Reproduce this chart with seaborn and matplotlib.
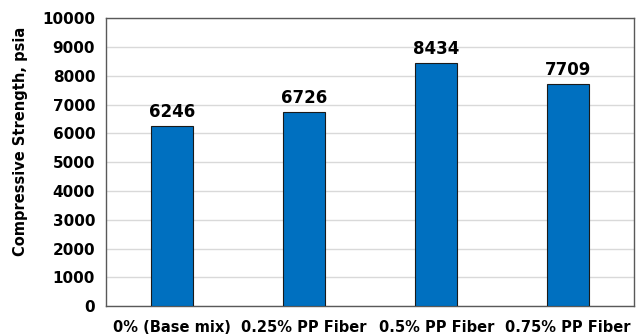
import matplotlib
matplotlib.use("Agg")
import matplotlib.pyplot as plt
import seaborn as sns
import pandas as pd

# chart data
mixes = ["0% (Base mix)", "0.25% PP Fiber", "0.5% PP Fiber", "0.75% PP Fiber"]
strength = [6246, 6726, 8434, 7709]
y_ticks = [0, 1000, 2000, 3000, 4000, 5000, 6000, 7000, 8000, 9000, 10000]

df = pd.DataFrame({"mix": mixes, "strength": strength})

sns.set_style("white")
plt.rcParams["font.family"] = ["DejaVu Sans"]
plt.rcParams["font.weight"] = "bold"
plt.rcParams["text.color"] = "black"
plt.rcParams["axes.labelcolor"] = "black"
plt.rcParams["xtick.color"] = "black"
plt.rcParams["ytick.color"] = "black"

fig = plt.figure(figsize=(6.4, 3.36), dpi=100)
ax = fig.add_axes([0.166, 0.089, 0.825, 0.857])

sns.barplot(data=df, x="mix", y="strength", color="#0070C0", saturation=1,
            width=0.32, edgecolor="#1a1a1a", linewidth=0.8, ax=ax, zorder=3)

# value labels above the bars
for i, v in enumerate(strength):
    ax.text(i, v + 180, str(v), ha="center", va="bottom",
            fontsize=12, fontweight="bold", color="black")

ax.set_ylim(0, 10000)
ax.set_yticks(y_ticks)
ax.set_yticklabels([str(t) for t in y_ticks], fontsize=11, fontweight="bold")
ax.set_xticks(range(len(mixes)))
ax.set_xticklabels(mixes, fontsize=10.5, fontweight="bold")
ax.set_xlim(-0.5, len(mixes) - 0.5)
ax.grid(axis="y", color="#D9D9D9", linewidth=1, zorder=0)
ax.tick_params(axis="both", length=0, pad=8)
ax.tick_params(axis="x", pad=10)

ax.set_xlabel("")
ax.set_ylabel("Compressive Strength, psia", fontsize=10.5, fontweight="bold")
ax.yaxis.set_label_coords(-0.148, 0.573)

for s in ax.spines.values():
    s.set_visible(True)
    s.set_color("#595959")
    s.set_linewidth(1)

fig.savefig("out.png", dpi=100)
